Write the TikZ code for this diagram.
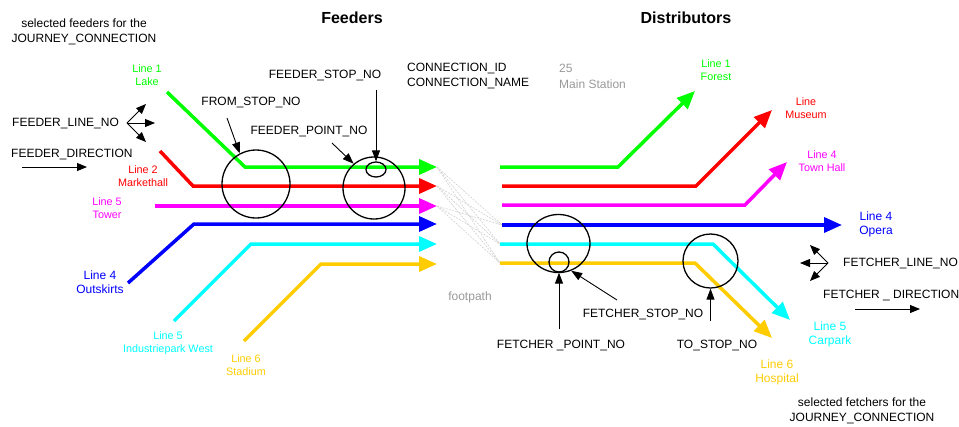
\documentclass[tikz,border=0pt]{standalone}
\usepackage{fontspec}
\setmainfont{Liberation Sans}
\usetikzlibrary{arrows.meta,shapes.geometric}

\definecolor{lnGreen}{HTML}{00FF00}
\definecolor{lnRed}{HTML}{FF0000}
\definecolor{lnMagenta}{HTML}{FF00FF}
\definecolor{lnBlue}{HTML}{0000FF}
\definecolor{lnCyan}{HTML}{00FFFF}
\definecolor{lnYellow}{HTML}{FFCC00}
\definecolor{softGray}{HTML}{999999}
\definecolor{walkGray}{HTML}{D0D0D0}

\begin{document}
\begin{tikzpicture}[x=1pt,y=-1pt,
  route/.style={line width=3.5pt,-{Triangle[length=18pt,width=15pt]}},
  ptr/.style={line width=0.9pt,-{Triangle[length=11pt,width=8pt]}},
  dirptr/.style={line width=0.9pt,-{Triangle[length=10pt,width=8pt]}},
  ring/.style={draw,line width=1.3pt,ellipse,inner sep=0pt},
  walk/.style={draw=walkGray,line width=0.6pt,dash pattern=on 2pt off 1.2pt},
  lbl/.style={font=\fontsize{12}{14}\selectfont,inner sep=0pt},
  small/.style={font=\fontsize{10.8}{13}\selectfont,align=center,inner sep=0pt},
  big/.style={font=\fontsize{12}{14.5}\selectfont,align=center,inner sep=0pt},
  head/.style={font=\bfseries\fontsize{16}{19}\selectfont,inner sep=0pt}]

\useasboundingbox (0,0) rectangle (959,426);

% ---------- titles and header ----------
\node[head] (tFeed) at (352,18) {Feeders};
\node[head] (tDist) at (686,18) {Distributors};
\node[big] (selFeed) at (84,32) {selected feeders for the\\JOURNEY\_CONNECTION};
\node[big] (selFetch) at (862,411) {selected fetchers for the\\JOURNEY\_CONNECTION};
\node[lbl,anchor=west] (cid) at (407,68) {CONNECTION\_ID};
\node[lbl,anchor=west] (cname) at (407,84) {CONNECTION\_NAME};
\node[lbl,anchor=west,text=softGray] (cidv) at (559,68) {25};
\node[lbl,anchor=west,text=softGray] (cnamev) at (559,84) {Main Station};
\node[lbl,text=softGray] (walkLbl) at (470,297) {footpath};

% ---------- feeder routes ----------
\coordinate (fg0) at (167,92);  \coordinate (fg1) at (245,167); \coordinate (fg2) at (437,167);
\coordinate (fr0) at (160,151); \coordinate (fr1) at (193,186); \coordinate (fr2) at (437,186);
\coordinate (fm0) at (155,206); \coordinate (fm2) at (437,206);
\coordinate (fb0) at (128,283); \coordinate (fb1) at (194,224); \coordinate (fb2) at (437,224);
\coordinate (fc0) at (174,321); \coordinate (fc1) at (251,244); \coordinate (fc2) at (437,244);
\coordinate (fy0) at (244,341); \coordinate (fy1) at (321,264); \coordinate (fy2) at (437,264);

% ---------- fetcher routes ----------
\coordinate (dg0) at (500,167); \coordinate (dg1) at (618,167); \coordinate (dg2) at (695,91);
\coordinate (dr0) at (502,186); \coordinate (dr1) at (696,186); \coordinate (dr2) at (772,110);
\coordinate (dm0) at (502,205); \coordinate (dm1) at (745,205); \coordinate (dm2) at (787,162);
\coordinate (db0) at (502,225); \coordinate (db2) at (842,225);
\coordinate (dc0) at (500,244); \coordinate (dc1) at (713,244); \coordinate (dc2) at (790,320);
\coordinate (dy0) at (500,263); \coordinate (dy1) at (695,263); \coordinate (dy2) at (772,338);

% footpaths between the platforms
\foreach \a in {fg2,fr2,fm2}
  \foreach \b in {db0,dc0,dy0}
    \draw[walk] (\a) -- (\b);

\draw[route,lnGreen]   (fg0) -- (fg1) -- (fg2);
\draw[route,lnRed]     (fr0) -- (fr1) -- (fr2);
\draw[route,lnMagenta] (fm0) -- (fm2);
\draw[route,lnBlue]    (fb0) -- (fb1) -- (fb2);
\draw[route,lnCyan]    (fc0) -- (fc1) -- (fc2);
\draw[route,lnYellow]  (fy0) -- (fy1) -- (fy2);

\draw[route,lnGreen]   (dg0) -- (dg1) -- (dg2);
\draw[route,lnRed]     (dr0) -- (dr1) -- (dr2);
\draw[route,lnMagenta] (dm0) -- (dm1) -- (dm2);
\draw[route,lnBlue]    (db0) -- (db2);
\draw[route,lnCyan]    (dc0) -- (dc1) -- (dc2);
\draw[route,lnYellow]  (dy0) -- (dy1) -- (dy2);

% ---------- route labels ----------
\node[small,text=lnGreen]   (lLake)   at (147,75.5)  {Line 1\\Lake};
\node[small,text=lnRed]     (lMarket) at (143,176.5) {Line 2\\Markethall};
\node[small,text=lnMagenta] (lTower)  at (107,208.5) {Line 5\\Tower};
\node[big,text=lnBlue]      (lOut)    at (100,282)   {Line 4\\Outskirts};
\node[small,text=lnCyan]    (lInd)    at (168,343.5) {Line 5\\Industriepark West};
\node[small,text=lnYellow]  (lStad)   at (246,365.5) {Line 6\\Stadium};
\node[small,text=lnGreen]   (lForest) at (716,70.5)  {Line 1\\Forest};
\node[small,text=lnRed]     (lMuseum) at (806,108.5) {Line\\Museum};
\node[small,text=lnMagenta] (lTown)   at (822,161.5) {Line 4\\Town Hall};
\node[big,text=lnBlue]      (lOpera)  at (876,224.5) {Line 4\\Opera};
\node[big,text=lnCyan]      (lCar)    at (830,334.5) {Line 5\\Carpark};
\node[big,text=lnYellow]    (lHosp)   at (777,372.5) {Line 6\\Hospital};

% ---------- stop and point rings ----------
\node[ring,minimum width=68pt,minimum height=68pt] (fromStop) at (256,184) {};
\node[ring,minimum width=62pt,minimum height=62pt] (feedStop) at (374,188) {};
\node[ring,minimum width=20pt,minimum height=15pt] (feedPoint) at (376,169.5) {};
\node[ring,minimum width=63pt,minimum height=58pt] (fetchStop) at (558.5,243.5) {};
\node[ring,minimum width=20pt,minimum height=20pt] (fetchPoint) at (559,262) {};
\node[ring,minimum width=55pt,minimum height=54pt] (toStop) at (710.5,261) {};

% ---------- annotations ----------
\node[lbl] (tFrom) at (251,103) {FROM\_STOP\_NO};
\node[lbl] (tFStop) at (325,75) {FEEDER\_STOP\_NO};
\node[lbl] (tFPoint) at (309,132) {FEEDER\_POINT\_NO};
\node[lbl] (tKStop) at (643,314) {FETCHER\_STOP\_NO};
\node[lbl] (tKPoint) at (561,345) {FETCHER \_POINT\_NO};
\node[lbl] (tTo) at (717,345) {TO\_STOP\_NO};
\node[lbl,anchor=west] (tFLine) at (12,123) {FEEDER\_LINE\_NO};
\node[lbl,anchor=west] (tFDir) at (11,154) {FEEDER\_DIRECTION};
\node[lbl,anchor=west] (tKLine) at (843,263) {FETCHER\_LINE\_NO};
\node[lbl,anchor=west] (tKDir) at (823,295) {FETCHER \_ DIRECTION};

\coordinate (aFrom) at (227,118);
\coordinate (aFStop) at (376,90);
\coordinate (aFPoint) at (332,143);
\coordinate (aKStop) at (617,300);
\coordinate (aKPoint) at (559,329);
\coordinate (aTo) at (710.5,321);

\draw[ptr] (aFrom) -- (fromStop.118);
\draw[ptr] (aFStop) -- (feedPoint.north);
\draw[ptr] (aFPoint) -- (feedStop.130);
\draw[ptr] (aKStop) -- (fetchStop.-65);
\draw[ptr] (aKPoint) -- (fetchPoint.south);
\draw[ptr] (aTo) -- (toStop.south);

% line-choice symbols
\coordinate (fo) at (127,123);
\coordinate (fu) at (146,104);
\coordinate (fe) at (155,123);
\coordinate (fd) at (146,142);
\draw[dirptr] (fo) -- (fu);
\draw[dirptr] (fo) -- (fe);
\draw[dirptr] (fo) -- (fd);

\coordinate (ko) at (828,263);
\coordinate (ku) at (810,245);
\coordinate (kw) at (800,263);
\coordinate (kd) at (810,281);
\draw[dirptr] (ko) -- (ku);
\draw[dirptr] (ko) -- (kw);
\draw[dirptr] (ko) -- (kd);

% direction symbols
\coordinate (fdirA) at (22,167);
\coordinate (fdirB) at (87,167);
\draw[dirptr] (fdirA) -- (fdirB);
\coordinate (kdirA) at (855,309);
\coordinate (kdirB) at (920,309);
\draw[dirptr] (kdirA) -- (kdirB);

\end{tikzpicture}
\end{document}
